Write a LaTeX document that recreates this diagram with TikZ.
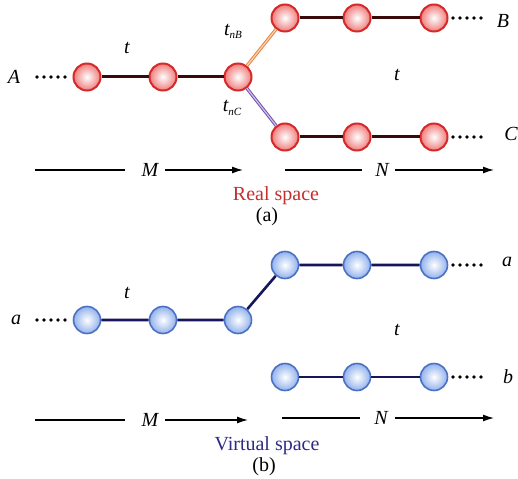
\documentclass[tikz,border=0pt]{standalone}
\usepackage{fontspec}
\setmainfont{Liberation Serif}
\usetikzlibrary{arrows.meta}

\begin{document}
\begin{tikzpicture}[x=1pt, y=-1pt, font=\fontsize{20}{24}\selectfont]

\definecolor{cRedEdge}{HTML}{D42A2A}
\definecolor{cRedBall}{HTML}{F07C7C}
\definecolor{cRedBond}{HTML}{3A0A0A}
\definecolor{cRedTxt}{HTML}{C0302E}
\definecolor{cBlueEdge}{HTML}{4C70C4}
\definecolor{cBlueBall}{HTML}{92B2EC}
\definecolor{cBlueBond}{HTML}{16165A}
\definecolor{cBlueTxt}{HTML}{2E2A86}
\definecolor{cOrange}{HTML}{E8843A}
\definecolor{cPurple}{HTML}{7452B2}

\tikzset{
  ballR/.style={circle, minimum size=27pt, inner sep=0pt, line width=2pt,
    draw=cRedEdge, inner color=white, outer color=cRedBall},
  ballV/.style={circle, minimum size=27pt, inner sep=0pt, line width=1.6pt,
    draw=cBlueEdge, inner color=white, outer color=cBlueBall},
  bondR/.style={draw=cRedBond, line width=3pt},
  bondV/.style={draw=cBlueBond, line width=2.6pt},
  dotrow/.style={line width=3.6pt, line cap=round, dash pattern=on 0pt off 7pt},
  axis/.style={line width=1.3pt},
  lbl/.style={font=\fontsize{20}{24}\selectfont\itshape},
}

\useasboundingbox (0,0) rectangle (518,478);

%% ---------- (a) real space ----------
\foreach \n/\x in {1/87, 2/163, 3/238}
  \node[ballR] (r\n) at (\x,77) {};
\foreach \n/\x in {1/285, 2/357, 3/434} {
  \node[ballR] (rb\n) at (\x,18) {};
  \node[ballR] (rc\n) at (\x,137) {};
}
\draw[bondR] (r1) -- (r2) -- (r3);
\draw[bondR] (rb1) -- (rb2) -- (rb3);
\draw[bondR] (rc1) -- (rc2) -- (rc3);
\draw[draw=cOrange, double=cOrange!35, double distance=1.2pt, line width=1pt] (r3) -- (rb1);
\draw[draw=cPurple, double=cPurple!35, double distance=1.2pt, line width=1pt] (r3) -- (rc1);

\node[lbl] (A) at (14,77) {A};
\node[lbl] (B) at (503,21) {B};
\node[lbl] (C) at (511,134) {C};
\coordinate (dA1) at (37,77);   \coordinate (dA2) at (65.01,77);
\coordinate (dB1) at (453,18);  \coordinate (dB2) at (481.01,18);
\coordinate (dC1) at (453,137); \coordinate (dC2) at (481.01,137);
\draw[dotrow] (dA1) -- (dA2);
\draw[dotrow] (dB1) -- (dB2);
\draw[dotrow] (dC1) -- (dC2);

\node[lbl] (tA) at (127,48) {t};
\node[lbl] (tAm) at (397,75) {t};
\node[lbl] (tnB) at (233,31) {t\raisebox{-0.35ex}{\fontsize{11}{12}\selectfont nB}};
\node[lbl] (tnC) at (232,108) {t\raisebox{-0.35ex}{\fontsize{11}{12}\selectfont nC}};

\coordinate (mA1) at (35,170);  \coordinate (mA2) at (125,170);
\coordinate (mA3) at (165,170); \coordinate (mA4) at (243,170);
\node[lbl] (MA) at (150,170) {M};
\draw[axis] (mA1) -- (mA2);
\draw[axis, -{Latex[length=11pt, width=7pt]}] (mA3) -- (mA4);
\coordinate (nA1) at (285,170); \coordinate (nA2) at (362,170);
\coordinate (nA3) at (395,170); \coordinate (nA4) at (494,170);
\node[lbl] (NA) at (382,170) {N};
\draw[axis] (nA1) -- (nA2);
\draw[axis, -{Latex[length=11pt, width=7pt]}] (nA3) -- (nA4);

\node[text=cRedTxt, anchor=base] (real) at (276,200) {Real space};
\node[anchor=base] (capa) at (267,221) {(a)};

%% ---------- (b) virtual space ----------
\foreach \n/\x in {1/87, 2/163, 3/238}
  \node[ballV] (v\n) at (\x,320) {};
\foreach \n/\x in {1/285, 2/357, 3/434} {
  \node[ballV] (va\n) at (\x,265) {};
  \node[ballV] (vb\n) at (\x,377) {};
}
\draw[bondV] (v1) -- (v2) -- (v3) -- (va1) -- (va2) -- (va3);
\draw[bondV] (vb1) -- (vb2) -- (vb3);

\node[lbl] (a) at (16,320) {a};
\node[lbl] (aR) at (507,262) {a};
\node[lbl] (bR) at (508,377) {b};
\coordinate (da1) at (37,320);  \coordinate (da2) at (65.01,320);
\coordinate (daR1) at (453,265); \coordinate (daR2) at (481.01,265);
\coordinate (dbR1) at (453,377); \coordinate (dbR2) at (481.01,377);
\draw[dotrow] (da1) -- (da2);
\draw[dotrow] (daR1) -- (daR2);
\draw[dotrow] (dbR1) -- (dbR2);

\node[lbl] (tB) at (127,293) {t};
\node[lbl] (tBm) at (397,330) {t};

\coordinate (mB1) at (35,420);  \coordinate (mB2) at (125,420);
\coordinate (mB3) at (165,420); \coordinate (mB4) at (248,420);
\node[lbl] (MB) at (150,420) {M};
\draw[axis] (mB1) -- (mB2);
\draw[axis, -{Latex[length=11pt, width=7pt]}] (mB3) -- (mB4);
\coordinate (nB1) at (282,418); \coordinate (nB2) at (360,418);
\coordinate (nB3) at (395,418); \coordinate (nB4) at (494,418);
\node[lbl] (NB) at (381,418) {N};
\draw[axis] (nB1) -- (nB2);
\draw[axis, -{Latex[length=11pt, width=7pt]}] (nB3) -- (nB4);

\node[text=cBlueTxt, anchor=base] (virt) at (267,450) {Virtual space};
\node[anchor=base] (capb) at (264,471) {(b)};

\end{tikzpicture}
\end{document}
